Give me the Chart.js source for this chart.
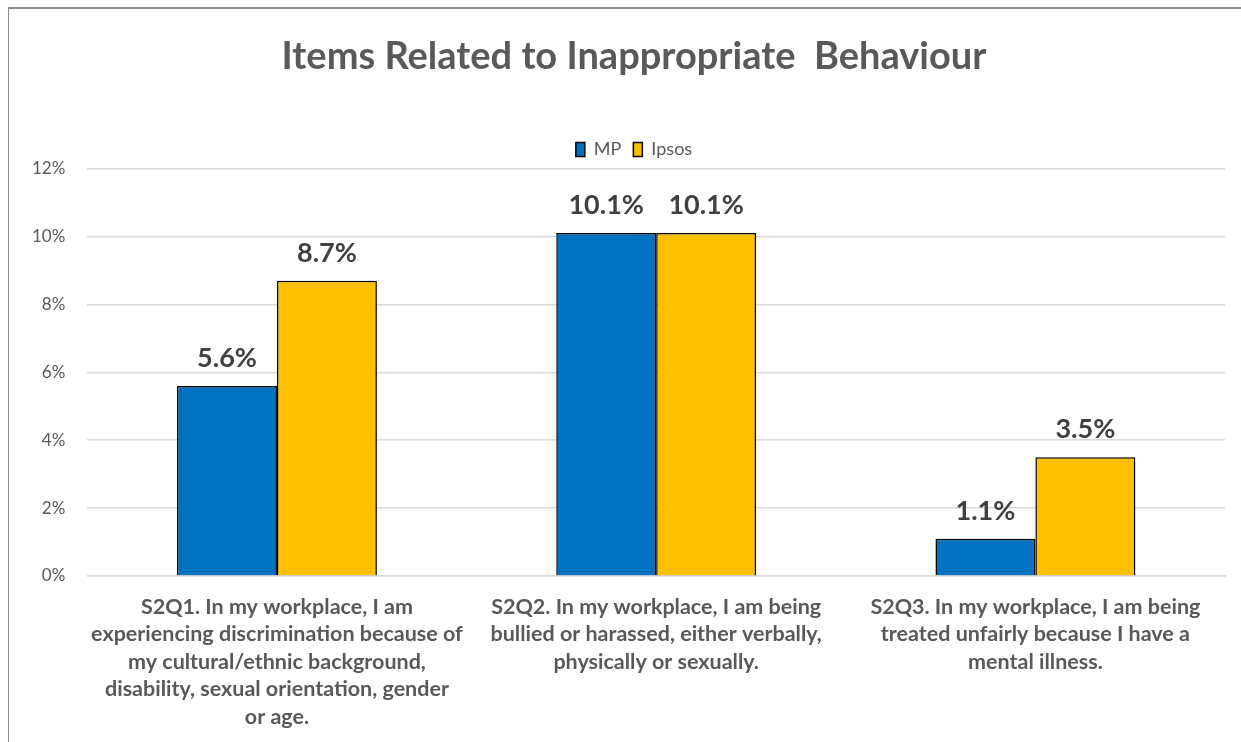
<!DOCTYPE html>
<html>
<head>
<meta charset="utf-8">
<script src="https://cdn.jsdelivr.net/npm/chart.js@4.4.1/dist/chart.umd.min.js"></script>
<style>
  html, body { margin: 0; background: #fff; overflow: hidden; width: 1241px; height: 742px; }
  #frame { position: absolute; left: 8px; top: 7px; width: 1240px; height: 740px;
           border-top: 2px solid #8c8c8c; border-left: 1px solid #8c8c8c; }
  #wrap { position: absolute; left: 0; top: 0; width: 1268px; height: 742px; }
</style>
</head>
<body>
<div id="frame"></div>
<div id="wrap"><canvas id="myChart"></canvas></div>
<script>
const categories = [
  ["S2Q1. In my workplace, I am", "experiencing discrimination because of", "my cultural/ethnic background,", "disability, sexual orientation, gender", "or age."],
  ["S2Q2. In my workplace, I am being", "bullied or harassed, either verbally,", "physically or sexually."],
  ["S2Q3. In my workplace, I am being", "treated unfairly because I have a", "mental illness."]
];
const mpValues = [5.6, 10.1, 1.1];
const ipsosValues = [8.7, 10.1, 3.5];
const yTicks = [0, 2, 4, 6, 8, 10, 12];

const ctx = document.getElementById("myChart");

// shadow behind the bars + value labels on top
const barExtras = {
  id: "barExtras",
  afterLayout(chart) {
    // the original chart box is wider than the picture, so title/legend sit a bit right
    [chart.titleBlock, chart.legend].forEach((b) => {
      b.left += 16.5;
      b.right += 16.5;
    });
  },
  beforeDatasetDraw(chart) {
    chart.ctx.save();
    chart.ctx.shadowColor = "rgba(0,0,0,0.35)";
    chart.ctx.shadowBlur = 6;
    chart.ctx.shadowOffsetX = 3;
    chart.ctx.shadowOffsetY = 2;
  },
  afterDatasetDraw(chart) {
    chart.ctx.restore();
  },
  afterDatasetsDraw(chart) {
    const c = chart.ctx;
    c.save();
    c.font = "bold 27px Lato";
    c.fillStyle = "#404040";
    c.textAlign = "center";
    c.textBaseline = "alphabetic";
    chart.data.datasets.forEach((ds, i) => {
      chart.getDatasetMeta(i).data.forEach((bar, j) => {
        c.fillText(ds.data[j].toFixed(1) + "%", bar.x, bar.y - 19);
      });
    });
    c.restore();
  }
};

new Chart(ctx, {
  type: "bar",
  data: {
    labels: categories,
    datasets: [
      { label: "MP", data: mpValues, backgroundColor: "#0070C0", borderColor: "#000", borderWidth: 1.5 },
      { label: "Ipsos", data: ipsosValues, backgroundColor: "#FFC000", borderColor: "#000", borderWidth: 1.5 }
    ]
  },
  plugins: [barExtras],
  options: {
    responsive: true,
    maintainAspectRatio: false,
    animation: false,
    layout: { padding: { top: 34, right: 43, bottom: 0, left: 10 } },
    categoryPercentage: 0.527,
    barPercentage: 1,
    plugins: {
      title: {
        display: true,
        text: "Items Related to Inappropriate  Behaviour",
        color: "#595959",
        font: { family: "Lato", size: 38, weight: "bold" },
        padding: { top: 0, bottom: 49 }
      },
      legend: {
        display: true,
        labels: {
          color: "#595959",
          font: { family: "Lato", size: 18 },
          boxWidth: 9,
          boxHeight: 14,
          padding: 12
        }
      },
      tooltip: { enabled: false }
    },
    scales: {
      y: {
        min: 0,
        max: 12,
        afterBuildTicks: (axis) => { axis.ticks = yTicks.map((v) => ({ value: v })); },
        ticks: {
          color: "#595959",
          font: { family: "Lato", size: 17 },
          padding: 22,
          callback: (v) => v + "%"
        },
        grid: { color: "#d9d9d9", lineWidth: 1.5, drawTicks: false },
        border: { display: false }
      },
      x: {
        afterFit: (axis) => { axis.height = 166; },
        ticks: {
          color: "#595959",
          font: { family: "Lato", size: 21.5, weight: "bold", lineHeight: 1.28 },
          maxRotation: 0,
          autoSkip: false,
          padding: 9
        },
        grid: { display: false },
        border: { color: "#d9d9d9", width: 1.5 }
      }
    }
  }
});
</script>
</body>
</html>
